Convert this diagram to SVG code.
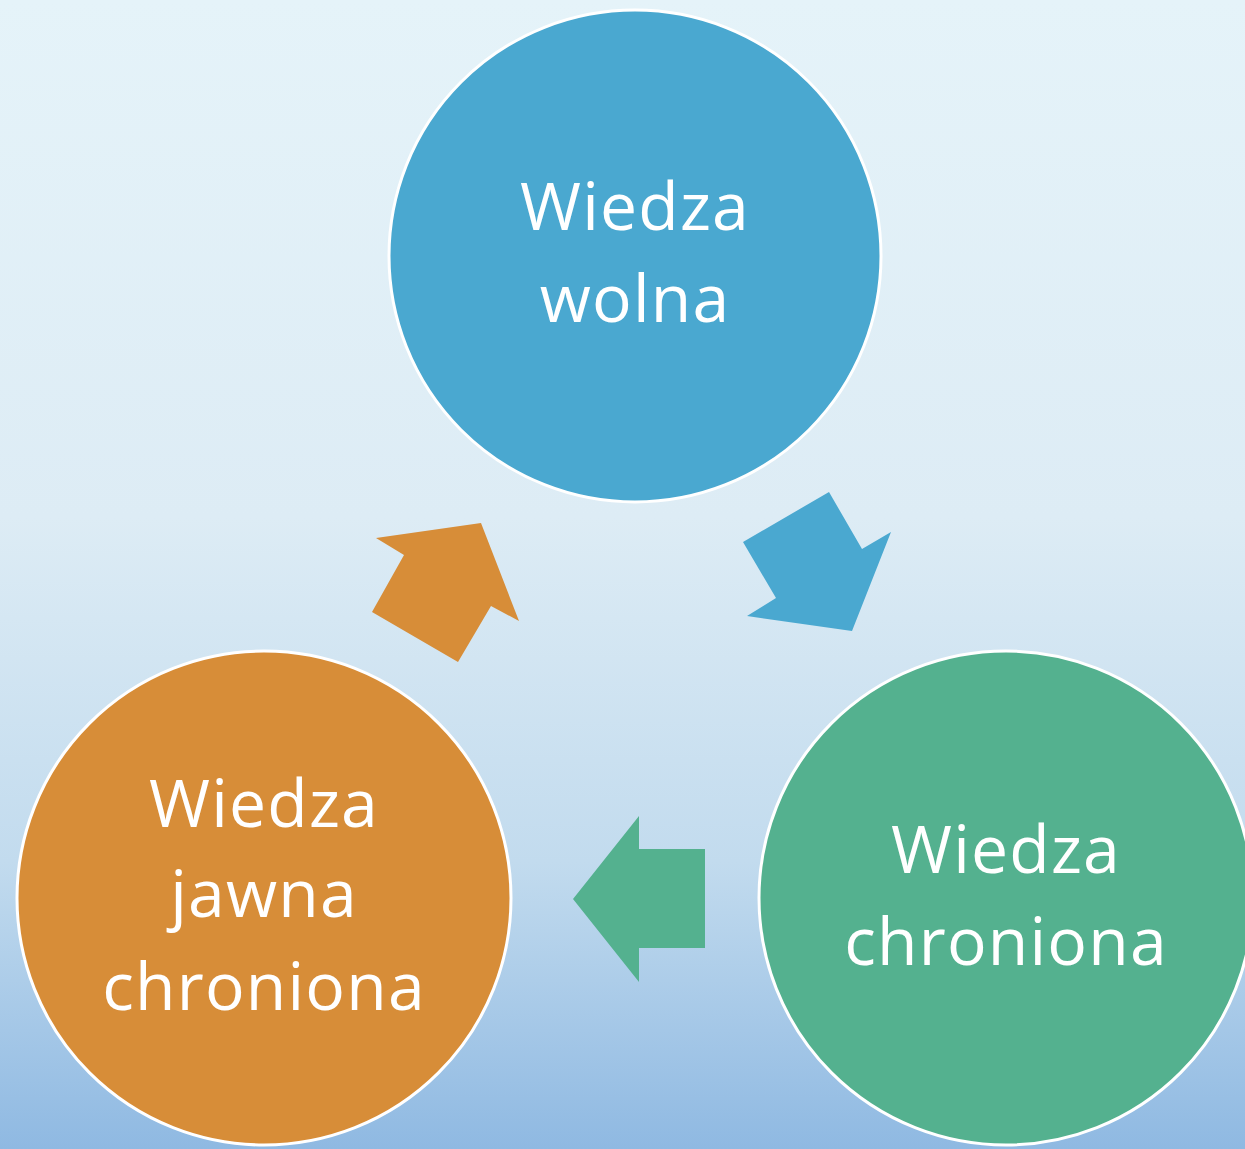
<svg xmlns="http://www.w3.org/2000/svg" width="1245" height="1149" viewBox="0 0 1245 1149">
<defs>
<linearGradient id="bg" x1="0" y1="0" x2="0" y2="1">
<stop offset="0" stop-color="#E5F3F9"/>
<stop offset="0.45" stop-color="#DDECF5"/>
<stop offset="0.75" stop-color="#C2DBEE"/>
<stop offset="1" stop-color="#8FB9E2"/>
</linearGradient>
<style>
.node{stroke:#FFFFFF;stroke-width:3}
.lbl{font-family:"Open Sans","Noto Sans","DejaVu Sans",sans-serif;font-size:66px;fill:#FFFFFF;text-anchor:middle;letter-spacing:1.2px}
</style>
</defs>
<rect width="1245" height="1149" fill="url(#bg)"/>
<g id="connectors">
<polygon points="743,542 829,492 862,549 891,532 852,631 747,616 776,598" fill="#4AA8D0"/>
<polygon points="705,849 639,849 639,816 573,899 639,982 639,948 705,948" fill="#54B18F"/>
<polygon points="376,538 481,523 519,621 491,606 458,662 372,612 404,555" fill="#D78D38"/>
</g>
<g id="node-wolna">
<circle class="node" cx="635" cy="256" r="246" fill="#4AA8D0"/>
<text class="lbl" x="635" y="230">Wiedza</text>
<text class="lbl" x="635" y="322">wolna</text>
</g>
<g id="node-chroniona">
<circle class="node" cx="1006" cy="898" r="247" fill="#54B18F"/>
<text class="lbl" x="1006" y="873">Wiedza</text>
<text class="lbl" x="1006" y="965">chroniona</text>
</g>
<g id="node-jawna">
<circle class="node" cx="264" cy="898" r="247" fill="#D78D38"/>
<text class="lbl" x="264" y="827">Wiedza</text>
<text class="lbl" x="264" y="917">jawna</text>
<text class="lbl" x="264" y="1010">chroniona</text>
</g>
</svg>
